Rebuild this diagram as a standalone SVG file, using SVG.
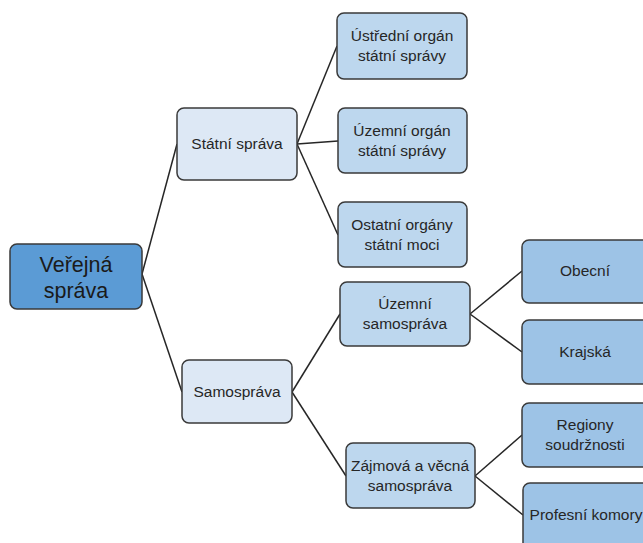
<svg xmlns="http://www.w3.org/2000/svg" width="643" height="543" viewBox="0 0 643 543">
<style>
rect{stroke:#3a3a3a;stroke-width:1.5}
.r{fill:#5b9bd5}
.a{fill:#dde8f5}
.b{fill:#bdd7ee}
.c{fill:#9dc3e6}
text{font-family:"Liberation Sans",Arial,sans-serif;font-size:15.5px;fill:#262626;text-anchor:middle}
.big{font-size:21.5px;fill:#1a1a1a}
#conn line{stroke:#262626;stroke-width:1.5}
</style>
<rect width="643" height="543" fill="#fff" style="stroke:none"/>
<g id="conn">
<line x1="142" y1="274" x2="177" y2="144"/>
<line x1="142" y1="274" x2="182" y2="392"/>
<line x1="297" y1="144" x2="337" y2="46"/>
<line x1="297" y1="144" x2="338" y2="141"/>
<line x1="297" y1="144" x2="338" y2="235"/>
<line x1="292" y1="392" x2="340" y2="314"/>
<line x1="292" y1="392" x2="346" y2="476"/>
<line x1="470" y1="314" x2="522" y2="271"/>
<line x1="470" y1="314" x2="522" y2="352"/>
<line x1="475" y1="476" x2="522" y2="435"/>
<line x1="475" y1="476" x2="523" y2="515"/>
</g>
<g id="verejna"><rect class="r" x="10" y="244" width="132" height="65" rx="7"/><text class="big" x="76" y="272">Veřejná</text><text class="big" x="76" y="298">správa</text></g>
<g id="statni"><rect class="a" x="177" y="108" width="120" height="72" rx="7"/><text x="237" y="149">Státní správa</text></g>
<g id="samosprava"><rect class="a" x="182" y="360" width="110" height="63" rx="7"/><text x="237" y="397">Samospráva</text></g>
<g id="ustredni"><rect class="b" x="337" y="13" width="130" height="66" rx="7"/><text x="402" y="41">Ústřední orgán</text><text x="402" y="61">státní správy</text></g>
<g id="uzemni-organ"><rect class="b" x="338" y="108" width="129" height="65" rx="7"/><text x="402" y="136">Územní orgán</text><text x="402" y="156">státní správy</text></g>
<g id="ostatni"><rect class="b" x="338" y="202" width="129" height="65" rx="7"/><text x="402" y="230">Ostatní orgány</text><text x="402" y="250">státní moci</text></g>
<g id="uzemni-sam"><rect class="b" x="340" y="282" width="130" height="64" rx="7"/><text x="405" y="309">Územní</text><text x="405" y="329">samospráva</text></g>
<g id="zajmova"><rect class="b" x="346" y="443" width="129" height="65" rx="7"/><text x="410" y="471">Zájmová a věcná</text><text x="410" y="491">samospráva</text></g>
<g id="obecni"><rect class="c" x="522" y="240" width="140" height="63" rx="7"/><text x="585" y="276">Obecní</text></g>
<g id="krajska"><rect class="c" x="522" y="320" width="140" height="64" rx="7"/><text x="585" y="357">Krajská</text></g>
<g id="regiony"><rect class="c" x="522" y="403" width="140" height="64" rx="7"/><text x="585" y="430">Regiony</text><text x="585" y="450">soudržnosti</text></g>
<g id="profesni"><rect class="c" x="523" y="483" width="140" height="70" rx="7"/><text x="586" y="520">Profesní komory</text></g>
</svg>
